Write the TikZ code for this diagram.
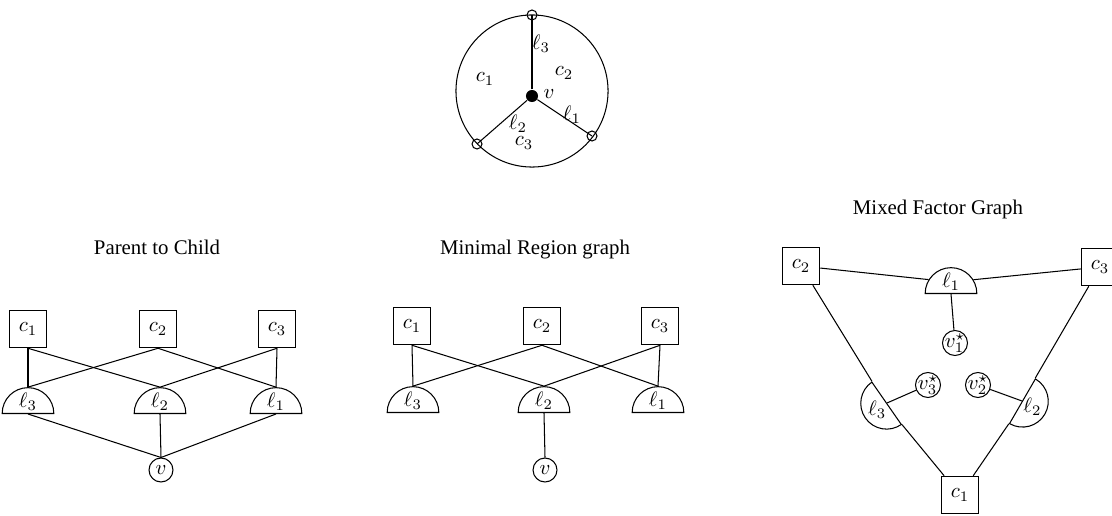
\documentclass[tikz,border=0pt]{standalone}
\usepackage{fontspec}
\setmainfont{Liberation Serif}
\usetikzlibrary{shapes.geometric}
\tikzset{
  fac/.style={draw, rectangle, minimum size=18pt, inner sep=0pt},
  lam/.style={draw, semicircle, inner sep=1.3pt, anchor=chord center},
  var/.style={draw, circle, minimum size=11.5pt, inner sep=0pt},
  vstar/.style={draw, circle, minimum size=12pt, inner sep=-0.8pt},
  ttl/.style={anchor=base},
  ring/.style={draw, circle, minimum size=4.8pt, inner sep=0pt},
  every path/.style={line width=0.5pt}
}
\begin{document}
\begin{tikzpicture}[x=0.48pt,y=-0.48pt]
\useasboundingbox (0,0) rectangle (1112,516);

% ---------- top diagram ----------
\draw (532,91) circle[radius=36.5pt];
\node[circle, fill, minimum size=5.8pt, inner sep=0pt] (vd) at (532,96) {};
\node[ring] (t1) at (532,15) {};
\node[ring] (t2) at (592,136) {};
\node[ring] (t3) at (477,144) {};
\draw (vd) -- (t1.center);
\draw (vd) -- (t2.center);
\draw (vd) -- (t3.center);
\node (tl3) at (541,44) {$\ell_3$};
\node (tc2) at (564,73) {$c_2$};
\node (tc1) at (485,79) {$c_1$};
\node (tv) at (549,94) {$v$};
\node (tl1) at (572,115) {$\ell_1$};
\node (tl2) at (518,124) {$\ell_2$};
\node (tc3) at (524,143) {$c_3$};

% ---------- Parent to Child ----------
\node[ttl] (tp) at (157,255) {Parent to Child};
\node[fac] (pc1) at (28,329) {$c_1$};
\node[fac] (pc2) at (158,329) {$c_2$};
\node[fac] (pc3) at (277,329) {$c_3$};
\node[lam] (pl3) at (28,414) {$\ell_3$};
\node[lam] (pl2) at (160,414) {$\ell_2$};
\node[lam] (pl1) at (276,414) {$\ell_1$};
\node[var] (pv) at (161,470) {$v$};
\draw (pc1.south) -- (pl3.apex);
\draw (pc1.south) -- (pl2.apex);
\draw (pc2.south) -- (pl3.apex);
\draw (pc2.south) -- (pl1.apex);
\draw (pc3.south) -- (pl2.apex);
\draw (pc3.south) -- (pl1.apex);
\draw (pl3.chord center) -- (pv.north);
\draw (pl2.chord center) -- (pv.north);
\draw (pl1.chord center) -- (pv.north);

% ---------- Minimal Region graph ----------
\node[ttl] (tm) at (535,255) {Minimal Region graph};
\node[fac] (mc1) at (412,326) {$c_1$};
\node[fac] (mc2) at (542,326) {$c_2$};
\node[fac] (mc3) at (660,326) {$c_3$};
\node[lam] (ml3) at (413,413) {$\ell_3$};
\node[lam] (ml2) at (544,413) {$\ell_2$};
\node[lam] (ml1) at (658,413) {$\ell_1$};
\node[var] (mv) at (545,470) {$v$};
\draw (mc1.south) -- (ml3.apex);
\draw (mc1.south) -- (ml2.apex);
\draw (mc2.south) -- (ml3.apex);
\draw (mc2.south) -- (ml1.apex);
\draw (mc3.south) -- (ml2.apex);
\draw (mc3.south) -- (ml1.apex);
\draw (ml2.chord center) -- (mv.north);

% ---------- Mixed Factor Graph ----------
\node[ttl] (tx) at (938,215) {Mixed Factor Graph};
\node[fac] (xc2) at (801,266) {$c_2$};
\node[fac] (xc3) at (1100,267) {$c_3$};
\node[fac] (xc1) at (960,495) {$c_1$};
\node[lam] (xl1) at (951,294) {$\ell_1$};
\node[lam, rotate=124.8] (xl3) at (887,403) {\phantom{$\ell_3$}};
\node[inner sep=0pt] (xl3t) at (xl3.center) {$\ell_3$};
\node[lam, rotate=-120.07] (xl2) at (1022,401) {\phantom{$\ell_2$}};
\node[inner sep=0pt] (xl2t) at (xl2.center) {$\ell_2$};
\node[vstar] (xv1) at (955,343) {$v_1^\star$};
\node[vstar] (xv3) at (928,385) {$v_3^\star$};
\node[vstar] (xv2) at (978,385) {$v_2^\star$};
\draw (xc2) -- (xl1);
\draw (xl1) -- (xc3);
\draw (xl1.chord center) -- (xv1);
\draw (xc2) -- (xl3.arc start);
\draw (xl3.arc end) -- (xc1);
\draw (xl3.chord center) -- (xv3);
\draw (xc3) -- (xl2.arc end);
\draw (xl2.arc start) -- (xc1);
\draw (xl2.chord center) -- (xv2);
\end{tikzpicture}
\end{document}
